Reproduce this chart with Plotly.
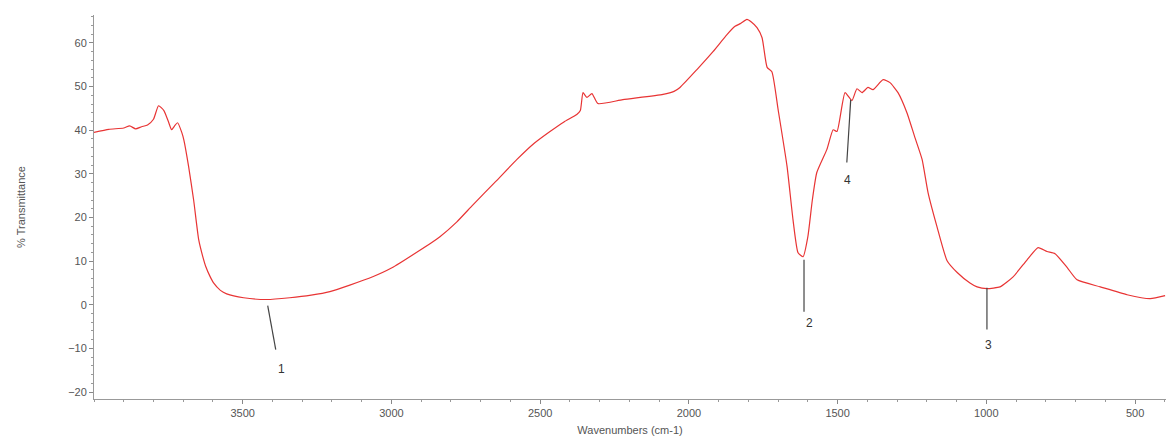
import plotly.graph_objects as go

# Spectrum (wavenumber cm-1, %T)
wavenumber = [4000, 3950, 3900, 3880, 3860, 3840, 3820, 3800, 3783, 3765, 3750, 3739, 3729, 3719,
              3705, 3698, 3682, 3665, 3648, 3635, 3624, 3610, 3598, 3575, 3554, 3497, 3419, 3342,
              3270, 3207, 3140, 3063, 3000, 2911, 2837, 2780, 2726, 2650, 2578, 2520, 2467, 2420,
              2377, 2365, 2356, 2343, 2326, 2306, 2222, 2087, 2050, 2030, 1973, 1919,
              1872, 1845, 1825, 1805, 1790, 1771, 1754, 1737, 1721, 1700, 1670, 1650, 1633, 1616,
              1600, 1585, 1570, 1536, 1515, 1502, 1475, 1452, 1435, 1418, 1398, 1381, 1347, 1324,
              1297, 1267, 1240, 1216, 1196, 1166, 1132, 1098, 1055, 1031, 998, 954, 910, 863, 826,
              796, 769, 728, 695, 617, 527, 449, 399]
transmittance = [39.5, 40.2, 40.5, 41.0, 40.3, 40.8, 41.2, 42.5, 45.6, 44.5, 42.0, 40.1, 41.0, 41.7,
                 39.5, 37.8, 31.7, 24.0, 14.9, 11.2, 8.7, 6.5, 5.0, 3.3, 2.5, 1.6, 1.2, 1.6,
                 2.2, 3.0, 4.5, 6.4, 8.4, 12.2, 15.6, 19.0, 22.9, 28.2, 33.3, 37.0, 39.7, 41.9,
                 43.6, 44.5, 48.6, 47.5, 48.4, 46.1, 47.0, 48.2, 48.9, 49.8, 53.9, 58.0,
                 61.9, 63.8, 64.5, 65.4, 64.8, 63.5, 61.2, 54.4, 53.4, 44.7, 31.7, 19.5, 11.9, 11.0,
                 15.6, 24.0, 30.3, 35.6, 40.1, 39.7, 48.6, 46.8, 49.5, 48.6, 49.8, 49.3, 51.6, 50.9,
                 48.6, 44.0, 38.3, 33.3, 25.7, 17.9, 10.1, 7.4, 5.0, 4.1, 3.7, 4.1, 6.4, 10.3, 13.1,
                 12.2, 11.7, 8.5, 5.7, 4.1, 2.3, 1.4, 2.1]

# Peak markers: label, wavenumber at line top, %T at top, wavenumber at line bottom, %T at bottom, label position
peak_labels = ["1", "2", "3", "4"]
peak_top_x = [3416, 1613, 998, 1456]
peak_top_y = [-0.2, 10.3, 3.9, 47.0]
peak_bot_x = [3389, 1613, 998, 1469]
peak_bot_y = [-10.3, -1.6, -5.7, 32.6]
label_x = [3369, 1593, 993, 1466]
label_y = [-14.7, -4.1, -9.2, 28.7]

x_ticks = [3500, 3000, 2500, 2000, 1500, 1000, 500]
y_ticks = [-20, -10, 0, 10, 20, 30, 40, 50, 60]

fig = go.Figure()
fig.add_trace(go.Scatter(x=wavenumber, y=transmittance, mode="lines",
                         line=dict(color="rgb(232,52,52)", width=1.2, shape="spline", smoothing=0.5),
                         showlegend=False))

for lab, x0, y0, x1, y1, lx, ly in zip(peak_labels, peak_top_x, peak_top_y, peak_bot_x, peak_bot_y, label_x, label_y):
    fig.add_shape(type="line", x0=x0, y0=y0, x1=x1, y1=y1, xref="x", yref="y",
                  line=dict(color="#444444", width=1.2))
    fig.add_annotation(x=lx, y=ly, text=lab, showarrow=False, xref="x", yref="y",
                       font=dict(size=12, color="#333333"))

axis_font = dict(family="Liberation Sans, Arial, sans-serif", size=11, color="#555555")
fig.update_layout(
    width=1166, height=447,
    margin=dict(l=94, r=0, t=15, b=48),
    paper_bgcolor="white", plot_bgcolor="white",
    font=axis_font,
    xaxis=dict(range=[4000, 396], tickvals=x_ticks, ticks="outside", ticklen=4, tickcolor="#888888",
               showline=True, linecolor="#999999", linewidth=1, showgrid=False, zeroline=False,
               minor=dict(dtick=100, ticks="outside", ticklen=2, tickcolor="#999999"),
               tickfont=axis_font,
               title=dict(text="Wavenumbers (cm-1)", font=axis_font, standoff=8)),
    yaxis=dict(range=[-21.6, 66.4], tickvals=y_ticks, ticks="outside", ticklen=4, tickcolor="#888888",
               showline=True, linecolor="#999999", linewidth=1, showgrid=False, zeroline=False,
               minor=dict(dtick=2, ticks="outside", ticklen=2, tickcolor="#999999"),
               tickfont=axis_font,
               title=dict(text="% Transmittance", font=axis_font, standoff=40)),
)

fig.write_html("out.html")
